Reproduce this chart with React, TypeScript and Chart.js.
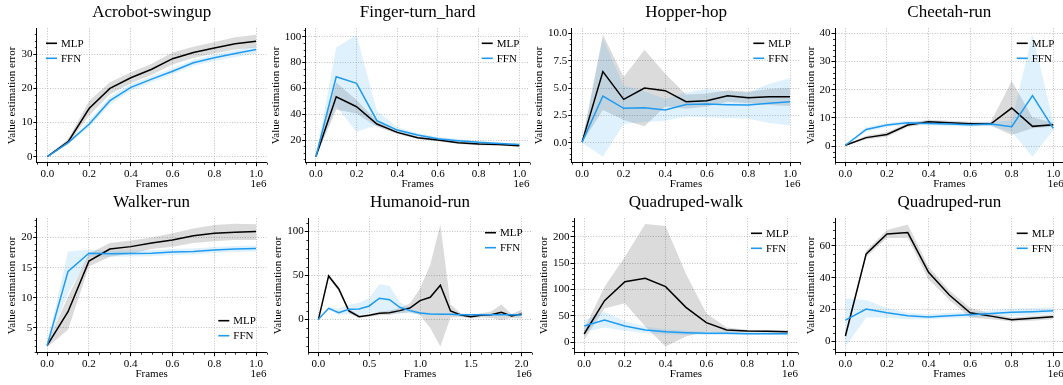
import React, { useEffect, useRef } from 'react';
import { Chart, registerables } from 'chart.js';

Chart.register(...registerables);

const FONT = "'Liberation Serif', 'Times New Roman', Times, serif";
const BLUE = 'rgb(30,155,240)';
const MLP_BAND = 'rgba(0,0,0,0.14)';
const FFN_BAND = 'rgba(30,155,240,0.14)';

// ---------------- data ----------------
const frames1M = [0, 0.1, 0.2, 0.3, 0.4, 0.5, 0.6, 0.7, 0.8, 0.9, 1.0];
const frames2M = [0, 0.1, 0.2, 0.3, 0.4, 0.5, 0.6, 0.7, 0.8, 0.9, 1.0, 1.1, 1.2, 1.3, 1.4, 1.5, 1.6, 1.7, 1.8, 1.9, 2.0];
const xTicks1M = [0, 0.2, 0.4, 0.6, 0.8, 1.0];
const xTicks2M = [0, 0.5, 1.0, 1.5, 2.0];

const acrobotMLP = [0, 4.4, 14.1, 20.0, 23.1, 25.6, 28.7, 30.5, 31.8, 33.1, 33.8];
const acrobotMLPLo = [0, 3.8, 12.0, 18.3, 21.5, 24.0, 27.0, 28.9, 30.2, 31.4, 32.0];
const acrobotMLPHi = [0.2, 5.2, 16.3, 21.8, 24.7, 27.2, 30.5, 32.2, 33.6, 35.0, 35.7];
const acrobotFFN = [0, 4.1, 9.5, 16.4, 20.3, 22.7, 25.0, 27.5, 29.0, 30.2, 31.4];
const acrobotFFNLo = [0, 3.6, 8.6, 15.2, 19.3, 21.8, 24.1, 26.6, 28.0, 29.2, 30.2];
const acrobotFFNHi = [0.2, 4.6, 10.5, 17.6, 21.3, 23.6, 25.9, 28.4, 30.0, 31.2, 32.4];
const acrobotYTicks = [0, 10, 20, 30];

const fingerMLP = [7.1, 53.5, 45.8, 32.4, 25.9, 21.8, 20.0, 17.9, 16.9, 16.6, 15.6];
const fingerMLPLo = [6.8, 43.5, 40.5, 30.3, 24.6, 20.8, 19.0, 16.9, 15.9, 15.6, 14.8];
const fingerMLPHi = [7.4, 64.5, 51.0, 34.7, 27.3, 22.9, 21.0, 18.9, 17.9, 17.6, 16.5];
const fingerFFN = [7.1, 69.0, 63.9, 35.0, 27.7, 23.9, 21.0, 19.5, 18.2, 17.4, 16.6];
const fingerFFNLo = [6.8, 46.0, 26.5, 31.6, 25.8, 22.5, 19.8, 18.4, 17.2, 16.5, 15.8];
const fingerFFNHi = [7.4, 91.7, 101.3, 42.5, 29.8, 25.3, 22.3, 20.6, 19.2, 18.3, 17.4];
const fingerYTicks = [20, 40, 60, 80, 100];

const hopperMLP = [0.05, 6.5, 3.96, 5.0, 4.76, 3.75, 3.84, 4.3, 4.12, 4.2, 4.2];
const hopperMLPLo = [0.0, 3.0, 2.07, 1.5, 3.3, 3.1, 3.3, 3.75, 3.6, 3.45, 3.35];
const hopperMLPHi = [0.1, 9.9, 6.0, 8.5, 6.3, 4.4, 4.5, 4.8, 4.66, 4.9, 5.0];
const hopperFFN = [0.05, 4.27, 3.14, 3.2, 3.0, 3.5, 3.54, 3.48, 3.45, 3.6, 3.75];
const hopperFFNLo = [0.0, -1.28, 1.7, 1.9, 2.0, 2.4, 2.3, 2.25, 2.2, 1.8, 1.6];
const hopperFFNHi = [0.1, 9.5, 5.2, 4.7, 4.0, 4.6, 4.9, 4.7, 4.6, 5.4, 5.9];
const hopperYTicks = [0, 2.5, 5.0, 7.5, 10.0];

const cheetahMLP = [0.3, 3.0, 4.1, 7.5, 8.6, 8.3, 7.9, 7.9, 13.5, 7.0, 7.6];
const cheetahMLPLo = [0.1, 2.3, 3.3, 6.8, 7.9, 7.6, 7.2, 7.2, 3.9, 6.3, 6.9];
const cheetahMLPHi = [0.5, 3.7, 4.9, 8.2, 9.3, 9.0, 8.6, 8.6, 23.1, 10.2, 8.3];
const cheetahFFN = [0.3, 5.9, 7.5, 8.3, 8.0, 7.8, 7.6, 7.8, 6.9, 17.9, 6.3];
const cheetahFFNLo = [0.1, 5.1, 6.8, 7.6, 7.3, 7.1, 6.9, 7.1, 5.1, -3.8, 5.7];
const cheetahFFNHi = [0.5, 6.7, 8.2, 9.0, 8.7, 8.5, 8.3, 8.5, 9.2, 39.6, 8.6];
const cheetahYTicks = [0, 10, 20, 30, 40];

const walkerMLP = [2.1, 7.7, 16.1, 18.1, 18.5, 19.1, 19.6, 20.3, 20.7, 20.9, 21.0];
const walkerMLPLo = [1.8, 4.7, 15.2, 16.8, 17.3, 18.1, 18.5, 19.1, 19.4, 19.6, 19.6];
const walkerMLPHi = [2.4, 10.2, 17.3, 19.1, 19.5, 20.0, 20.7, 21.5, 22.1, 22.3, 22.2];
const walkerFFN = [2.1, 14.4, 17.4, 17.3, 17.35, 17.4, 17.6, 17.7, 17.95, 18.1, 18.2];
const walkerFFNLo = [1.9, 10.8, 16.8, 16.8, 16.85, 16.9, 17.1, 17.2, 17.45, 17.6, 17.7];
const walkerFFNHi = [2.3, 17.7, 18.0, 17.8, 17.85, 17.9, 18.1, 18.2, 18.45, 18.6, 18.7];
const walkerYTicks = [5, 10, 15, 20];

const humanoidMLP = [0, 49.4, 34.6, 9.5, 3.0, 4.6, 6.8, 7.6, 9.9, 12.9, 21.3, 25.1, 38.8, 9.5, 4.9, 3.0, 4.6, 5.3, 8.0, 3.8, 6.1];
const humanoidMLPLo = [0, 47, 32, 7, 1.5, 3, 4.5, 5, 7, 8, 5, -10, -31, 2, 2.5, 1, 2, 1.5, -1, 1.5, 1];
const humanoidMLPHi = [0.5, 51.5, 37, 12, 4.5, 6, 9, 10, 13, 18, 35, 62, 108, 17, 7, 5, 7, 9, 17, 6, 11];
const humanoidFFN = [0, 12.5, 7.6, 11.4, 11.8, 15.2, 24.0, 22.4, 13.7, 9.9, 7.2, 6.1, 5.7, 5.7, 5.3, 5.3, 5.3, 5.3, 5.3, 5.3, 4.9];
const humanoidFFNLo = [0, 11, 5, 6, 5, 7, 9, 8, 7, 7, 5.5, 5, 4.7, 4.7, 4.3, 4.3, 4.3, 4.3, 4.3, 4.3, 3.9];
const humanoidFFNHi = [0.5, 14, 12, 17, 19, 24, 40, 38, 20, 12, 9, 7.2, 6.7, 6.7, 6.3, 6.3, 6.3, 6.3, 6.3, 6.3, 5.9];
const humanoidYTicks = [0, 50, 100];

const qwalkMLP = [15.8, 78.9, 114.8, 121.1, 105.4, 66.2, 37.2, 23.3, 21.5, 20.8, 20.2];
const qwalkMLPLo = [5, 64, 74, 30, -8, 11, 20, 18, 19, 18.5, 18];
const qwalkMLPHi = [25, 105, 162, 224, 220, 130, 55, 28, 24, 23, 22.5];
const qwalkFFN = [30.9, 42.3, 30.9, 23.3, 20.2, 18.3, 17.0, 17.0, 16.4, 16.4, 16.4];
const qwalkFFNLo = [20, 28, 22, 17, 15, 14.5, 14, 14, 14, 14, 14];
const qwalkFFNHi = [42, 58, 40, 30, 25, 22, 20, 20, 19, 19, 19];
const qwalkYTicks = [0, 50, 100, 150, 200];

const qrunMLP = [3.4, 55, 67.5, 68.4, 43.4, 29.2, 18.0, 15.9, 13.6, 14.5, 15.5];
const qrunMLPLo = [1, 53, 65, 65, 39, 26, 15, 14, 12.5, 13, 14];
const qrunMLPHi = [5, 57, 70, 73.5, 47, 32, 21, 17.5, 15, 16, 17];
const qrunFFN = [13.4, 20.3, 18.0, 16.2, 15.3, 16.2, 16.8, 17.6, 18.3, 18.7, 19.3];
const qrunFFNLo = [-3.4, 15, 15, 14, 14, 14.5, 15, 15.5, 16, 16.5, 17.5];
const qrunFFNHi = [27, 26, 21, 18, 17, 18, 18.5, 19.5, 20.5, 21, 21.5];
const qrunYTicks = [0, 20, 40, 60];

const titles = ['Acrobot-swingup', 'Finger-turn_hard', 'Hopper-hop', 'Cheetah-run', 'Walker-run', 'Humanoid-run', 'Quadruped-walk', 'Quadruped-run'];
const seriesLabels = ['MLP', 'FFN'];
const xAxisLabel = 'Frames';
const yAxisLabel = 'Value estimation error';
const xOffsetLabel = '1e6';

type PanelData = {
  title: string; x: number[]; xTicks: number[]; xRange: [number, number]; xMinor: number;
  yTicks: number[]; yDec: number; yRange: [number, number]; yMinor: number;
  mlp: number[]; mlpLo: number[]; mlpHi: number[]; ffn: number[]; ffnLo: number[]; ffnHi: number[];
};

const PANELS: PanelData[] = [
  { title: titles[0], x: frames1M, xTicks: xTicks1M, xRange: [-0.05, 1.05], xMinor: 0.05, yTicks: acrobotYTicks, yDec: 0, yRange: [-1.78, 37.6], yMinor: 2,
    mlp: acrobotMLP, mlpLo: acrobotMLPLo, mlpHi: acrobotMLPHi, ffn: acrobotFFN, ffnLo: acrobotFFNLo, ffnHi: acrobotFFNHi },
  { title: titles[1], x: frames1M, xTicks: xTicks1M, xRange: [-0.05, 1.05], xMinor: 0.05, yTicks: fingerYTicks, yDec: 0, yRange: [2.45, 106.5], yMinor: 5,
    mlp: fingerMLP, mlpLo: fingerMLPLo, mlpHi: fingerMLPHi, ffn: fingerFFN, ffnLo: fingerFFNLo, ffnHi: fingerFFNHi },
  { title: titles[2], x: frames1M, xTicks: xTicks1M, xRange: [-0.05, 1.05], xMinor: 0.05, yTicks: hopperYTicks, yDec: 1, yRange: [-1.83, 10.46], yMinor: 0.5,
    mlp: hopperMLP, mlpLo: hopperMLPLo, mlpHi: hopperMLPHi, ffn: hopperFFN, ffnLo: hopperFFNLo, ffnHi: hopperFFNHi },
  { title: titles[3], x: frames1M, xTicks: xTicks1M, xRange: [-0.05, 1.05], xMinor: 0.05, yTicks: cheetahYTicks, yDec: 0, yRange: [-5.9, 41.8], yMinor: 2,
    mlp: cheetahMLP, mlpLo: cheetahMLPLo, mlpHi: cheetahMLPHi, ffn: cheetahFFN, ffnLo: cheetahFFNLo, ffnHi: cheetahFFNHi },
  { title: titles[4], x: frames1M, xTicks: xTicks1M, xRange: [-0.05, 1.05], xMinor: 0.05, yTicks: walkerYTicks, yDec: 0, yRange: [0.9, 23.2], yMinor: 1,
    mlp: walkerMLP, mlpLo: walkerMLPLo, mlpHi: walkerMLPHi, ffn: walkerFFN, ffnLo: walkerFFNLo, ffnHi: walkerFFNHi },
  { title: titles[5], x: frames2M, xTicks: xTicks2M, xRange: [-0.1, 2.1], xMinor: 0.1, yTicks: humanoidYTicks, yDec: 0, yRange: [-38, 115], yMinor: 10,
    mlp: humanoidMLP, mlpLo: humanoidMLPLo, mlpHi: humanoidMLPHi, ffn: humanoidFFN, ffnLo: humanoidFFNLo, ffnHi: humanoidFFNHi },
  { title: titles[6], x: frames1M, xTicks: xTicks1M, xRange: [-0.05, 1.05], xMinor: 0.05, yTicks: qwalkYTicks, yDec: 0, yRange: [-19.6, 234.7], yMinor: 10,
    mlp: qwalkMLP, mlpLo: qwalkMLPLo, mlpHi: qwalkMLPHi, ffn: qwalkFFN, ffnLo: qwalkFFNLo, ffnHi: qwalkFFNHi },
  { title: titles[7], x: frames1M, xTicks: xTicks1M, xRange: [-0.05, 1.05], xMinor: 0.05, yTicks: qrunYTicks, yDec: 0, yRange: [-7.1, 77.4], yMinor: 5,
    mlp: qrunMLP, mlpLo: qrunMLPLo, mlpHi: qrunMLPHi, ffn: qrunFFN, ffnLo: qrunFFNLo, ffnHi: qrunFFNHi },
];

// ---------------- layout (page pixels) ----------------
const CANVAS_H = 192;
const ROW_TOP = [0, 190];
const PLOT_TOP = 28.3;     // relative to canvas
const PLOT_BOTTOM = 162.7; // relative to canvas
const TITLE_BASELINE = 16.7;
const OFFSET_BASELINE = 186.5;
const LAYOUT = [
  { x0: 0, x1: 268, axL: 36.9, axR: 266.5, ylabX: 12.5, legX: 46, legY: 43.3 },
  { x0: 268, x1: 533, axL: 305.7, axR: 529.5, ylabX: 276, legX: 481.7, legY: 43.3 },
  { x0: 533, x1: 802, axL: 571.7, axR: 800.4, ylabX: 539.6, legX: 753.3, legY: 43.3 },
  { x0: 802, x1: 1066, axL: 835, axR: 1063.7, ylabX: 811, legX: 1016.7, legY: 43.3 },
  { x0: 0, x1: 268, axL: 36.7, axR: 266.5, ylabX: 12.5, legX: 218.3, legY: 130.7 },
  { x0: 268, x1: 533, axL: 308.3, axR: 531.8, ylabX: 278, legX: 485, legY: 42.7 },
  { x0: 533, x1: 802, axL: 574, axR: 797.9, ylabX: 544, legX: 751, legY: 43.3 },
  { x0: 802, x1: 1066, axL: 835, axR: 1063.7, ylabX: 811, legX: 1016.7, legY: 43.3 },
];

const pts = (xs: number[], ys: number[]) => xs.map((x, i) => ({ x, y: ys[i] }));

function decorPlugin(p: PanelData, lay: typeof LAYOUT[number]) {
  return {
    id: 'decor',
    afterDraw(chart: any) {
      const ctx = chart.ctx as CanvasRenderingContext2D;
      const ca = chart.chartArea;
      const xs = chart.scales.x;
      const ys = chart.scales.y;
      ctx.save();
      // minor ticks
      ctx.strokeStyle = '#000';
      ctx.lineWidth = 0.8;
      ctx.beginPath();
      const isMajor = (v: number, arr: number[]) => arr.some(t => Math.abs(t - v) < 1e-9);
      for (let k = Math.ceil(p.xRange[0] / p.xMinor - 1e-9); k * p.xMinor <= p.xRange[1] + 1e-9; k++) {
        const v = +(k * p.xMinor).toFixed(6);
        if (isMajor(v, p.xTicks)) continue;
        const px = Math.round(xs.getPixelForValue(v)) + 0.5;
        ctx.moveTo(px, ca.bottom);
        ctx.lineTo(px, ca.bottom + 2);
      }
      for (let k = Math.ceil(p.yRange[0] / p.yMinor - 1e-9); k * p.yMinor <= p.yRange[1] + 1e-9; k++) {
        const v = +(k * p.yMinor).toFixed(6);
        if (isMajor(v, p.yTicks)) continue;
        const py = Math.round(ys.getPixelForValue(v)) + 0.5;
        ctx.moveTo(ca.left, py);
        ctx.lineTo(ca.left - 2, py);
      }
      ctx.stroke();
      // title
      ctx.fillStyle = '#000';
      ctx.font = `17px ${FONT}`;
      ctx.textAlign = 'center';
      ctx.textBaseline = 'alphabetic';
      ctx.fillText(p.title, (ca.left + ca.right) / 2, TITLE_BASELINE);
      // offset text
      ctx.font = `11px ${FONT}`;
      ctx.textAlign = 'right';
      ctx.fillText(xOffsetLabel, Math.min(ca.right, chart.width - 1), OFFSET_BASELINE);
      // legend
      const lx = lay.legX - lay.x0;
      const entries = chart.data.datasets.filter((d: any) => seriesLabels.includes(d.label));
      entries.sort((a: any, b: any) => seriesLabels.indexOf(a.label) - seriesLabels.indexOf(b.label));
      ctx.textAlign = 'left';
      ctx.textBaseline = 'middle';
      entries.forEach((d: any, i: number) => {
        const ly = lay.legY + i * 15;
        ctx.strokeStyle = d.borderColor;
        ctx.lineWidth = 1.6;
        ctx.beginPath();
        ctx.moveTo(lx, ly);
        ctx.lineTo(lx + 11, ly);
        ctx.stroke();
        ctx.fillStyle = '#000';
        ctx.fillText(d.label, lx + 15, ly + 0.5);
      });
      ctx.restore();
    },
  };
}

function Panel({ p, lay, top }: { p: PanelData; lay: typeof LAYOUT[number]; top: number }) {
  const ref = useRef<HTMLCanvasElement>(null);
  const W = lay.x1 - lay.x0;
  useEffect(() => {
    if (!ref.current) return;
    const tickFont = { family: FONT, size: 11 };
    const chart = new Chart(ref.current, {
      type: 'line',
      data: {
        datasets: [
          { label: 'FFN', data: pts(p.x, p.ffn), borderColor: BLUE, borderWidth: 1.5, pointRadius: 0, fill: false, tension: 0 },
          { label: 'MLP', data: pts(p.x, p.mlp), borderColor: '#000', borderWidth: 1.5, pointRadius: 0, fill: false, tension: 0 },
          { label: '', data: pts(p.x, p.ffnLo), borderColor: 'rgba(0,0,0,0)', borderWidth: 0, pointRadius: 0, fill: false },
          { label: '', data: pts(p.x, p.ffnHi), borderColor: 'rgba(0,0,0,0)', borderWidth: 0, pointRadius: 0, fill: '-1', backgroundColor: FFN_BAND },
          { label: '', data: pts(p.x, p.mlpLo), borderColor: 'rgba(0,0,0,0)', borderWidth: 0, pointRadius: 0, fill: false },
          { label: '', data: pts(p.x, p.mlpHi), borderColor: 'rgba(0,0,0,0)', borderWidth: 0, pointRadius: 0, fill: '-1', backgroundColor: MLP_BAND },
        ],
      },
      options: {
        animation: false,
        responsive: false,
        devicePixelRatio: 1,
        events: [],
        layout: { padding: { top: PLOT_TOP, right: lay.x1 - lay.axR, left: 0, bottom: 0 } },
        plugins: { legend: { display: false }, title: { display: false }, tooltip: { enabled: false } },
        scales: {
          x: {
            type: 'linear', min: p.xRange[0], max: p.xRange[1],
            afterBuildTicks: (s: any) => { s.ticks = p.xTicks.map(v => ({ value: v })); },
            afterFit: (s: any) => { s.height = CANVAS_H - PLOT_BOTTOM; },
            ticks: { autoSkip: false, maxRotation: 0, padding: 1, font: tickFont, color: '#000', callback: (v: any) => Number(v).toFixed(1) },
            grid: { color: '#b0b0b0', lineWidth: 0.8, drawTicks: true, tickLength: 3.5, tickColor: '#000', tickWidth: 1 },
            border: { display: true, color: '#000', width: 1, dash: [1, 1.6] },
            title: { display: true, text: xAxisLabel, font: tickFont, color: '#000', padding: { top: 0, bottom: 0.9 } },
          },
          y: {
            type: 'linear', min: p.yRange[0], max: p.yRange[1],
            afterBuildTicks: (s: any) => { s.ticks = p.yTicks.map(v => ({ value: v })); },
            afterFit: (s: any) => { s.width = lay.axL - lay.x0; },
            ticks: { autoSkip: false, padding: 1, font: tickFont, color: '#000', callback: (v: any) => Number(v).toFixed(p.yDec) },
            grid: { color: '#b0b0b0', lineWidth: 0.8, drawTicks: true, tickLength: 3.5, tickColor: '#000', tickWidth: 1 },
            border: { display: true, color: '#000', width: 1, dash: [1, 1.6] },
            title: { display: true, text: yAxisLabel, font: tickFont, color: '#000', padding: { top: Math.max(lay.ylabX - lay.x0 - 6.6, 0), bottom: 0 } },
          },
        },
      } as any,
      plugins: [decorPlugin(p, lay)],
    });
    return () => chart.destroy();
  }, []);
  return (
    <canvas
      ref={ref}
      width={W}
      height={CANVAS_H}
      style={{ position: 'absolute', left: lay.x0, top, width: W, height: CANVAS_H }}
    />
  );
}

export default function App() {
  return (
    <div style={{ position: 'fixed', left: 0, top: 0, width: 1063, height: 385, overflow: 'hidden', background: '#fff' }}>
      {PANELS.map((p, i) => (
        <Panel key={i} p={p} lay={LAYOUT[i]} top={ROW_TOP[Math.floor(i / 4)]} />
      ))}
    </div>
  );
}
